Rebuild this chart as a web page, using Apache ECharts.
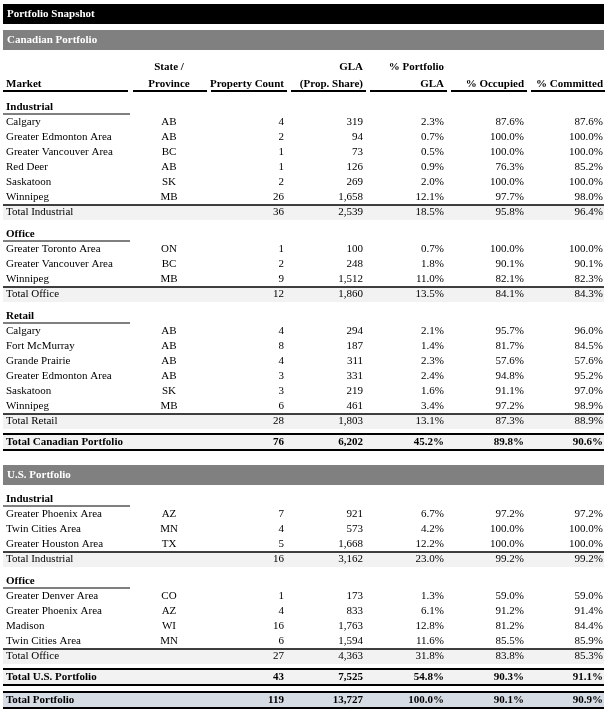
<!DOCTYPE html>
<html><head><meta charset="utf-8">
<script src="https://cdn.jsdelivr.net/npm/echarts@6/dist/echarts.min.js"></script>
<style>html,body{margin:0;padding:0;background:#fff}#c{width:607px;height:711px}</style>
</head><body><div id="c"></div>
<script>
// ---------- DATA ----------
const title = 'Portfolio Snapshot';
const headerLine1 = ['', 'State /', '', 'GLA', '% Portfolio', '', ''];
const headerLine2 = ['Market', 'Province', 'Property Count', '(Prop. Share)', 'GLA', '% Occupied', '% Committed'];

const caIndMarket = ['Calgary','Greater Edmonton Area','Greater Vancouver Area','Red Deer','Saskatoon','Winnipeg'];
const caIndProv   = ['AB','AB','BC','AB','SK','MB'];
const caIndCount  = [4,2,1,1,2,26];
const caIndGLA    = [319,94,73,126,269,1658];
const caIndPct    = [2.3,0.7,0.5,0.9,2.0,12.1];
const caIndOcc    = [87.6,100.0,100.0,76.3,100.0,97.7];
const caIndCom    = [87.6,100.0,100.0,85.2,100.0,98.0];
const caIndTotal  = [36,2539,18.5,95.8,96.4];

const caOffMarket = ['Greater Toronto Area','Greater Vancouver Area','Winnipeg'];
const caOffProv   = ['ON','BC','MB'];
const caOffCount  = [1,2,9];
const caOffGLA    = [100,248,1512];
const caOffPct    = [0.7,1.8,11.0];
const caOffOcc    = [100.0,90.1,82.1];
const caOffCom    = [100.0,90.1,82.3];
const caOffTotal  = [12,1860,13.5,84.1,84.3];

const caRetMarket = ['Calgary','Fort McMurray','Grande Prairie','Greater Edmonton Area','Saskatoon','Winnipeg'];
const caRetProv   = ['AB','AB','AB','AB','SK','MB'];
const caRetCount  = [4,8,4,3,3,6];
const caRetGLA    = [294,187,311,331,219,461];
const caRetPct    = [2.1,1.4,2.3,2.4,1.6,3.4];
const caRetOcc    = [95.7,81.7,57.6,94.8,91.1,97.2];
const caRetCom    = [96.0,84.5,57.6,95.2,97.0,98.9];
const caRetTotal  = [28,1803,13.1,87.3,88.9];

const caTotal = [76,6202,45.2,89.8,90.6];

const usIndMarket = ['Greater Phoenix Area','Twin Cities Area','Greater Houston Area'];
const usIndProv   = ['AZ','MN','TX'];
const usIndCount  = [7,4,5];
const usIndGLA    = [921,573,1668];
const usIndPct    = [6.7,4.2,12.2];
const usIndOcc    = [97.2,100.0,100.0];
const usIndCom    = [97.2,100.0,100.0];
const usIndTotal  = [16,3162,23.0,99.2,99.2];

const usOffMarket = ['Greater Denver Area','Greater Phoenix Area','Madison','Twin Cities Area'];
const usOffProv   = ['CO','AZ','WI','MN'];
const usOffCount  = [1,4,16,6];
const usOffGLA    = [173,833,1763,1594];
const usOffPct    = [1.3,6.1,12.8,11.6];
const usOffOcc    = [59.0,91.2,81.2,85.5];
const usOffCom    = [59.0,91.4,84.4,85.9];
const usOffTotal  = [27,4363,31.8,83.8,85.3];

const usTotal = [43,7525,54.8,90.3,91.1];
const grandTotal = [119,13727,100.0,90.1,90.9];

// ---------- LAYOUT (positions/styles) ----------
const W = 607, H = 711;
const FONT = '"Liberation Serif", "DejaVu Serif", serif';
const FS = 11;
const colX = [6, 169, 284, 363, 444, 524, 603];
const colAlign = ['left','center','right','right','right','right','right'];
const ulSeg = [[3,128],[133,207],[211,287],[291,366],[370,447],[451,527],[531,605]];
const L = 3, R = 604;

const items = [];
function text(x,y,t,align,opts){ items.push(Object.assign({kind:'text',x,y,t,align},opts||{})); }
function rect(x1,y1,x2,y2,fill){ items.push({kind:'rect',x:x1,y:y1,x2,y2,fill}); }
function line(x1,x2,y,w){ items.push({kind:'line',x:x1,y,x2,w}); }

const fmtInt = v => v.toLocaleString('en-US');
const fmtPct = v => v.toFixed(1) + '%';
function valueCells(vals){ return [fmtInt(vals[0]), fmtInt(vals[1]), fmtPct(vals[2]), fmtPct(vals[3]), fmtPct(vals[4])]; }

function group(y, label, market, prov, count, gla, pct, occ, com, total){
  text(colX[0], y, label, 'left', {bold:true});
  line(L, 130, y+7, 1);
  let yy = y;
  for (let i=0;i<market.length;i++){
    yy += 15;
    const cells = [market[i], prov[i]].concat(valueCells([count[i],gla[i],pct[i],occ[i],com[i]]));
    cells.forEach((c,j)=>text(colX[j], yy, c, colAlign[j]));
  }
  rect(L, yy+8, R, yy+23, '#f2f2f2');
  line(L, R, yy+8, 1.5);
  yy += 15;
  const cells = ['Total ' + label, ''].concat(valueCells(total));
  cells.forEach((c,j)=>{ if(c) text(colX[j], yy, c, colAlign[j]); });
  return yy;
}
function bigTotal(yText, label, vals, fill){
  rect(L, yText-8, R, yText+8, fill);
  line(L, R, yText-8, 2);
  line(L, R, yText+8, 2);
  const cells = [label, ''].concat(valueCells(vals));
  cells.forEach((c,j)=>{ if(c) text(colX[j], yText, c, colAlign[j], {bold:true}); });
}
function bar(y1, y2, label, fill){
  rect(L, y1, R, y2, fill);
  text(7, (y1+y2)/2, label, 'left', {bold:true, color:'#fff'});
}

// Build table
bar(4, 24, title, '#000');
bar(30, 50, 'Canadian Portfolio', '#808080');
headerLine1.forEach((c,j)=>{ if(c) text(colX[j], 67, c, colAlign[j], {bold:true}); });
headerLine2.forEach((c,j)=>{ text(colX[j], 84, c, colAlign[j], {bold:true}); });
ulSeg.forEach(s=>line(s[0], s[1], 91, 2));

let y = group(107, 'Industrial', caIndMarket, caIndProv, caIndCount, caIndGLA, caIndPct, caIndOcc, caIndCom, caIndTotal);
y = group(y+22, 'Office', caOffMarket, caOffProv, caOffCount, caOffGLA, caOffPct, caOffOcc, caOffCom, caOffTotal);
y = group(y+22, 'Retail', caRetMarket, caRetProv, caRetCount, caRetGLA, caRetPct, caRetOcc, caRetCom, caRetTotal);
y += 21;
bigTotal(y, 'Total Canadian Portfolio', caTotal, '#f2f2f2');
bar(y+23, y+43, 'U.S. Portfolio', '#808080');
y = group(y+57, 'Industrial', usIndMarket, usIndProv, usIndCount, usIndGLA, usIndPct, usIndOcc, usIndCom, usIndTotal);
y = group(y+22, 'Office', usOffMarket, usOffProv, usOffCount, usOffGLA, usOffPct, usOffOcc, usOffCom, usOffTotal);
y += 21;
bigTotal(y, 'Total U.S. Portfolio', usTotal, '#f2f2f2');
y += 23;
bigTotal(y, 'Total Portfolio', grandTotal, '#d6dce4');

// order: rects first, then lines, then text
const order = {rect:0, line:1, text:2};
items.sort((a,b)=>order[a.kind]-order[b.kind]);

const chart = echarts.init(document.getElementById('c'), null, {renderer:'canvas'});
chart.setOption({
  animation:false,
  grid:{left:0,right:0,top:0,bottom:0},
  xAxis:{type:'value',min:0,max:W,show:false},
  yAxis:{type:'value',min:0,max:H,inverse:true,show:false},
  series:[{
    type:'custom',
    coordinateSystem:'cartesian2d',
    clip:false,
    data: items.map((d,i)=>[d.x, d.y, i]),
    renderItem:function(params, api){
      const d = items[params.dataIndex];
      const p = api.coord([d.x, d.y]);
      if (d.kind==='rect'){
        const p2 = api.coord([d.x2, d.y2]);
        return {type:'rect', shape:{x:p[0], y:p[1], width:p2[0]-p[0], height:p2[1]-p[1]}, style:{fill:d.fill}};
      }
      if (d.kind==='line'){
        const p2 = api.coord([d.x2, d.y]);
        return {type:'line', shape:{x1:p[0], y1:p[1], x2:p2[0], y2:p2[1]}, style:{stroke:'#000', lineWidth:d.w}};
      }
      return {type:'text', style:{
        x:p[0], y:p[1], text:d.t, align:d.align, verticalAlign:'middle',
        fill:d.color||'#000',
        font:(d.bold?'bold ':'') + FS + 'px ' + FONT
      }};
    }
  }]
});
</script></body></html>
